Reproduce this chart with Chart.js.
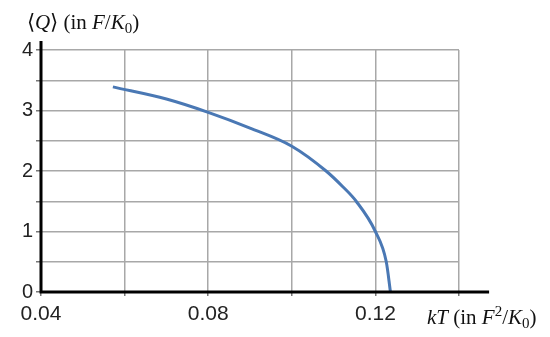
<!DOCTYPE html>
<html>
<head>
<meta charset="utf-8">
<script src="https://cdn.jsdelivr.net/npm/chart.js@4"></script>
<style>
    body { margin: 0; background: #fff; }
    #wrap { position: relative; width: 550px; height: 337px; }
    .ttl { position: absolute; font-family: "Liberation Serif", "Times New Roman", serif; font-size: 21px; color: #111; white-space: nowrap; line-height: 1; }
    .ttl sub { font-size: 15px; vertical-align: -4px; line-height: 0; }
    .ttl sup { font-size: 15px; vertical-align: 8px; line-height: 0; }
</style>
</head>
<body>
<div id="wrap">
    <canvas id="c" width="550" height="337"></canvas>
    <div class="ttl" id="ytitle" style="left:27px; top:12px;">&#10216;<i>Q</i>&#10217; (in <i>F</i>/<i>K</i><sub>0</sub>)</div>
    <div class="ttl" id="xtitle" style="left:427px; top:307px;"><i>kT</i> (in <i>F</i><sup>2</sup>/<i>K</i><sub>0</sub>)</div>
</div>
<script>
    // values
    const kT = [0.0572, 0.07, 0.08, 0.09, 0.10, 0.1082, 0.1122, 0.1154, 0.1200, 0.1226, 0.1236];
    const Q = [3.39, 3.19, 2.97, 2.71, 2.41, 2.00, 1.74, 1.50, 1.00, 0.50, 0];
    const xLabels = ['0.04', '0.08', '0.12'];
    const yLabels = ['0', '1', '2', '3', '4'];

    const points = kT.map((x, i) => ({x: x, y: Q[i]}));

    // thick black axes, running a bit past the grid
    const axesPlugin = {
        id: 'axes',
        afterDraw(chart) {
            const ctx = chart.ctx, xs = chart.scales.x, ys = chart.scales.y;
            const x0 = xs.getPixelForValue(0.04), y0 = ys.getPixelForValue(0);
            ctx.save();
            ctx.strokeStyle = '#000';
            ctx.lineWidth = 3;
            ctx.beginPath();
            ctx.moveTo(x0, ys.getPixelForValue(4.15));
            ctx.lineTo(x0, y0);
            ctx.lineTo(xs.getPixelForValue(0.1472), y0);
            ctx.stroke();
            ctx.restore();
        }
    };

    const fam = 'Arial, "Liberation Sans", sans-serif';

    new Chart(document.getElementById('c'), {
        type: 'line',
        data: {
            datasets: [{
                data: points,
                borderColor: '#4a78b4',
                borderWidth: 3,
                pointRadius: 0,
                fill: false,
                cubicInterpolationMode: 'monotone'
            }]
        },
        options: {
            responsive: false,
            animation: false,
            layout: {padding: {left: 0, top: 50, right: 91, bottom: 0}},
            plugins: {legend: {display: false}, tooltip: {enabled: false}},
            scales: {
                x: {
                    type: 'linear', min: 0.04, max: 0.14,
                    afterFit: s => { s.height = 45; },
                    border: {display: false},
                    grid: {color: '#a8a8a8', lineWidth: 1.5, tickLength: 4, tickColor: '#777'},
                    ticks: {
                        stepSize: 0.02, color: '#222', font: {family: fam, size: 21}, padding: 6, maxRotation: 0,
                        callback: v => {
                            const s = (Math.round(v * 100) / 100).toFixed(2);
                            return xLabels.includes(s) ? s : '';
                        }
                    }
                },
                y: {
                    min: 0, max: 4,
                    afterFit: s => { s.width = 41; },
                    border: {display: false},
                    grid: {color: '#a8a8a8', lineWidth: 1.5, tickLength: 5, tickColor: '#777'},
                    ticks: {
                        stepSize: 0.5, color: '#222', font: {family: fam, size: 20}, padding: 3,
                        callback: v => {
                            const s = String(v);
                            return yLabels.includes(s) ? s : '';
                        }
                    }
                }
            }
        },
        plugins: [axesPlugin]
    });
</script>
</body>
</html>
